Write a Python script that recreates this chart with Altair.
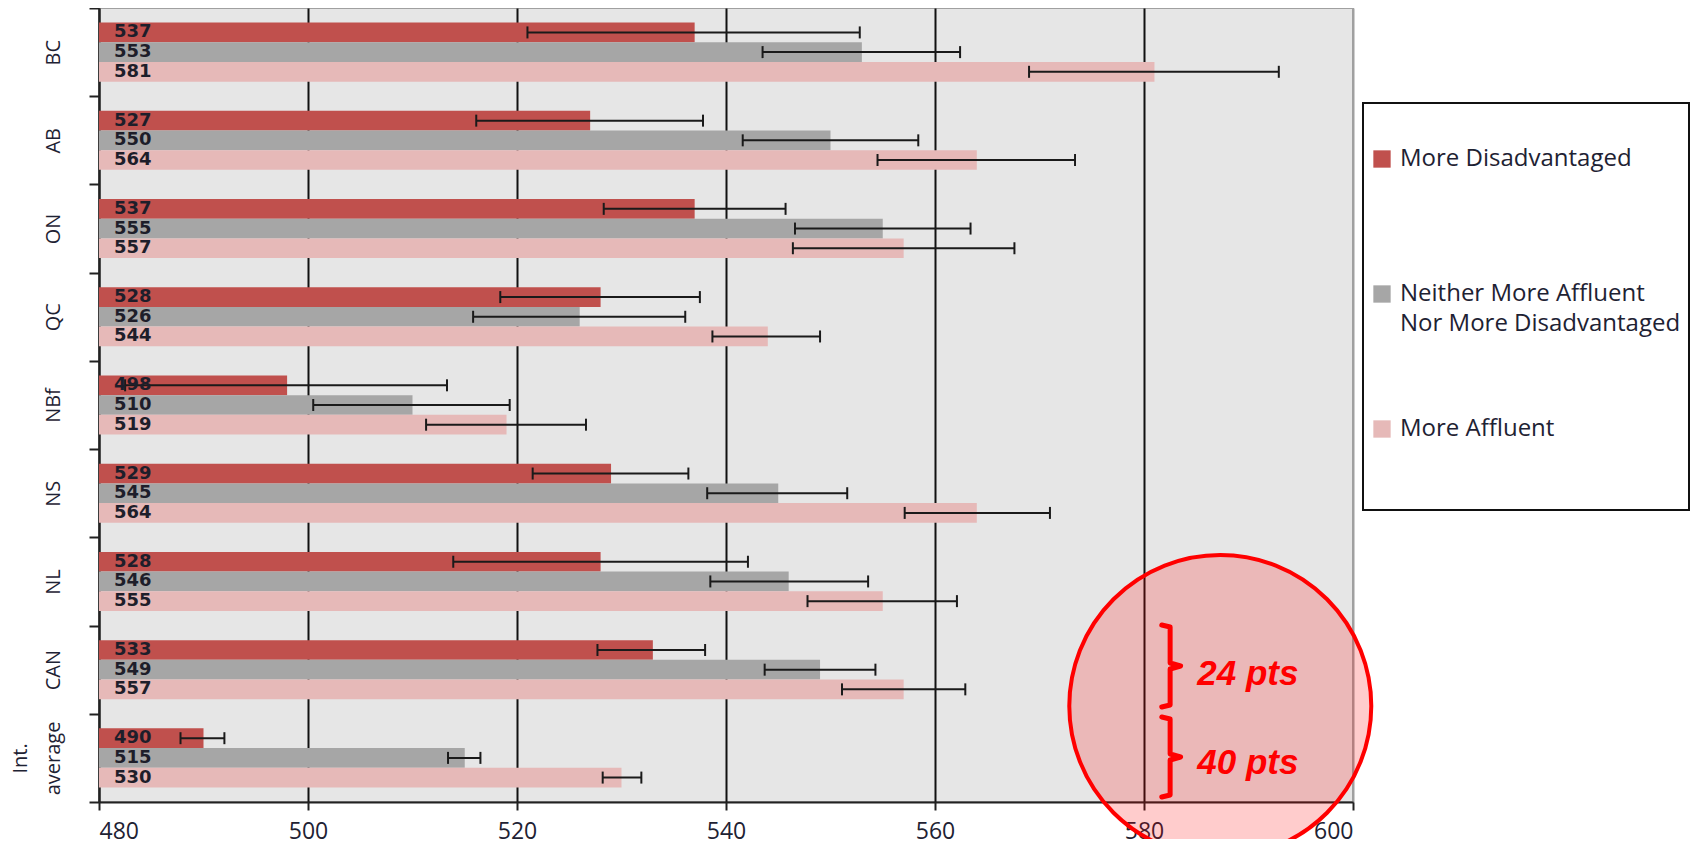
import altair as alt
import pandas as pd

# ---------------- data ----------------
regions = ["BC", "AB", "ON", "QC", "NBf", "NS", "NL", "CAN", "Int. average"]
series = ["More Disadvantaged",
          "Neither More Affluent Nor More Disadvantaged",
          "More Affluent"]
colors = ["#c0504d", "#a6a6a6", "#e6b9b8"]

disadv = [537, 527, 537, 528, 498, 529, 528, 533, 490]
neither = [553, 550, 555, 526, 510, 545, 546, 549, 515]
affluent = [581, 564, 557, 544, 519, 564, 555, 557, 530]

disadv_lo = [521.0, 516.1, 528.3, 518.4, 482.5, 521.5, 513.9, 527.7, 487.8]
disadv_hi = [552.8, 537.8, 545.7, 537.5, 513.3, 536.4, 542.1, 538.0, 492.0]
neither_lo = [543.5, 541.6, 546.6, 515.8, 500.5, 538.2, 538.5, 543.7, 513.4]
neither_hi = [562.4, 558.4, 563.4, 536.1, 519.3, 551.6, 553.6, 554.3, 516.5]
affluent_lo = [569.0, 554.5, 546.4, 538.7, 511.3, 557.1, 547.8, 551.1, 528.2]
affluent_hi = [592.9, 573.4, 567.6, 549.0, 526.6, 571.0, 562.1, 562.9, 531.9]

x_ticks = [480, 500, 520, 540, 560, 580, 600]
x_min = 480

# annotation (x in score units, y in pixels of the plot area)
ann_labels = ["24 pts", "40 pts"]
ann_x = [585.1, 585.1]
ann_y = [677, 766]
circle_x = [587.3]
circle_y = [698]
brace_id = [1] * 7 + [2] * 7
brace_order = list(range(7)) * 2
brace_x = [581.7, 582.5, 582.5, 583.5, 582.5, 582.5, 581.7] * 2
brace_y = [617, 619, 655, 658, 661, 697, 699,
           709, 711, 746, 749, 752, 787, 789]

# ---------------- tables ----------------
rows = []
vals = [disadv, neither, affluent]
los = [disadv_lo, neither_lo, affluent_lo]
his = [disadv_hi, neither_hi, affluent_hi]
for s_i, s in enumerate(series):
    for r_i, r in enumerate(regions):
        rows.append({"region": r, "series": s, "value": vals[s_i][r_i],
                     "lo": los[s_i][r_i], "hi": his[s_i][r_i]})
df = pd.DataFrame(rows)

ann_df = pd.DataFrame({"label": ann_labels, "tx": ann_x, "ty": ann_y})
circ_df = pd.DataFrame({"cx": circle_x, "cy": circle_y})
brace_df = pd.DataFrame({"bid": brace_id, "bo": brace_order,
                         "bx": brace_x, "by": brace_y})

# ---------------- encodings ----------------
x_scale = alt.Scale(domain=[480, 600], zero=False, nice=False)
x_enc = alt.X("value:Q", scale=x_scale, title=None,
              axis=alt.Axis(values=x_ticks, grid=True,
                            gridColor={"condition": {"test": "datum.value >= 600", "value": "#a0a0a0"},
                                       "value": "#111111"},
                            gridWidth=2, domainColor="#222222", domainWidth=2,
                            tickColor="#222222", tickWidth=2, tickSize=8,
                            labelFont="Open Sans", labelFontSize=23,
                            labelColor="#1e2233", labelPadding=10))
y_enc = alt.Y("region:N", sort=regions, title=None,
              scale=alt.Scale(paddingInner=0, paddingOuter=0),
              axis=alt.Axis(grid=False, tickBand="extent",
                            domainColor="#222222", domainWidth=2,
                            tickColor="#222222", tickWidth=2, tickSize=10,
                            labelFont="Open Sans", labelFontSize=20,
                            labelColor="#1e2233", labelAngle=270,
                            labelAlign="center", labelBaseline="alphabetic",
                            labelPadding=63, labelLineHeight=33,
                            labelExpr="datum.value == 'Int. average' ? ['Int.', 'average'] : ['', datum.value]"))
yoff = alt.YOffset("series:N", sort=series,
                   scale=alt.Scale(paddingInner=0, paddingOuter=0.74))

legend = alt.Legend(title=None, orient="none", legendX=1271, legendY=139,
                    symbolType="square", symbolSize=300, symbolStrokeWidth=0,
                    symbolOpacity=1, labelFont="Open Sans", labelFontSize=24,
                    labelColor="#1e2233", labelLimit=600, labelOffset=6,
                    rowPadding=81, padding=0,
                    labelExpr="datum.label == 'Neither More Affluent Nor More Disadvantaged' ? ['Neither More Affluent', 'Nor More Disadvantaged'] : [datum.label, '']")

base = alt.Chart(df)

bars = base.mark_bar().encode(
    x=x_enc, x2=alt.datum(x_min), y=y_enc, yOffset=yoff,
    color=alt.Color("series:N", sort=series,
                    scale=alt.Scale(domain=series, range=colors), legend=legend))

err = base.mark_rule(color="#1a1a1a", strokeWidth=2).encode(
    x="lo:Q", x2="hi:Q", y=y_enc, yOffset=yoff)

caps = base.transform_fold(["lo", "hi"], as_=["end", "pos"]).mark_tick(
    orient="vertical", size=12, thickness=2, color="#1a1a1a", opacity=1).encode(
    x="pos:Q", y=y_enc, yOffset=yoff)

labels = base.mark_text(align="left", baseline="middle", dx=15,
                        font="DejaVu Sans", fontSize=18, fontWeight="bold",
                        color="#1e1e2a").encode(
    x=alt.datum(x_min), y=y_enc, yOffset=yoff, text="value:Q")

frame = alt.Chart(pd.DataFrame({"k": [0]})).mark_rect(
    fill="transparent", stroke="#111111", strokeWidth=2).encode(
    x=alt.value(1264), x2=alt.value(1590), y=alt.value(95), y2=alt.value(502))

circle = alt.Chart(circ_df).mark_point(
    shape="circle", fill="#ff0000", fillOpacity=0.2, stroke="#ff0000",
    strokeWidth=4, strokeOpacity=1, opacity=1, size=91200).encode(
    x="cx:Q", y=alt.Y("cy:Q", scale=None))

braces = alt.Chart(brace_df).mark_line(
    color="#ff0000", strokeWidth=5, strokeJoin="round", strokeCap="round").encode(
    x="bx:Q", y=alt.Y("by:Q", scale=None), detail="bid:N", order="bo:Q")

ann = alt.Chart(ann_df).mark_text(
    align="left", baseline="alphabetic", font="Liberation Sans", fontSize=35,
    fontWeight="bold", fontStyle="italic", color="#ff0000").encode(
    x="tx:Q", y=alt.Y("ty:Q", scale=None), text="label:N")

chart = alt.layer(bars, err, caps, labels, frame, circle, braces, ann).properties(
    width=1254, height=794,
    autosize=alt.AutoSizeParams(type="none"),
    padding={"left": 91, "top": 0, "right": 338, "bottom": 37},
    background="white",
).configure(
    style={"guide-label": {"lineHeight": 30}},
    view=alt.ViewConfig(fill="#e6e6e6", stroke="#a0a0a0", strokeWidth=2),
)

chart.save("out.html", embed_options={"renderer": "svg", "actions": False})
